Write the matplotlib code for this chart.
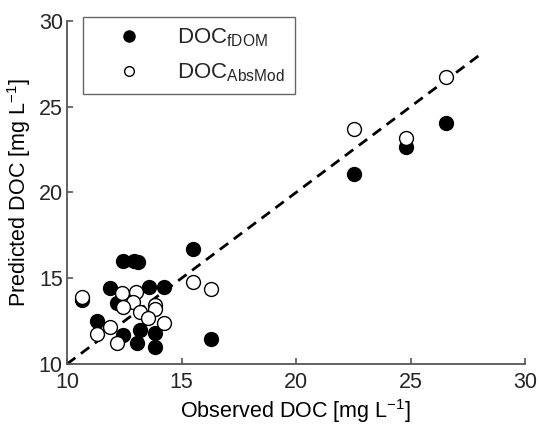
import matplotlib
matplotlib.use("Agg")
import matplotlib.pyplot as plt
from matplotlib.lines import Line2D

plt.rcParams["font.family"] = ["Liberation Sans", "DejaVu Sans"]
plt.rcParams["mathtext.fontset"] = "custom"
plt.rcParams["mathtext.rm"] = "Liberation Sans"
plt.rcParams["mathtext.it"] = "Liberation Sans"
plt.rcParams["lines.scale_dashes"] = False
plt.rcParams["text.color"] = "#262626"

# observed / predicted DOC [mg L-1]
obs_fdom = [15.52, 12.43, 12.93, 13.11, 11.88, 13.59, 14.24, 10.64, 12.20, 11.30,
            13.19, 12.46, 13.84, 13.04, 13.84, 16.28, 22.53, 24.80, 26.55]
pred_fdom = [16.69, 16.03, 16.03, 15.97, 14.42, 14.47, 14.47, 13.73, 13.54, 12.53,
             11.98, 11.69, 11.83, 11.21, 10.97, 11.44, 21.09, 22.68, 24.08]

obs_abs = [10.64, 15.52, 16.28, 12.41, 13.00, 12.90, 13.84, 13.84, 12.46, 13.19,
           13.55, 14.24, 11.88, 11.30, 12.20, 22.53, 24.80, 26.55]
pred_abs = [13.89, 14.80, 14.38, 14.12, 14.22, 13.63, 13.44, 13.21, 13.31, 13.05,
            12.67, 12.37, 12.18, 11.75, 11.21, 23.69, 23.17, 26.76]

one_to_one = [10, 28]
ticks = [10, 15, 20, 25, 30]

fig = plt.figure(figsize=(5.39, 4.25), dpi=100)
ax = fig.add_axes([67 / 539, 1 - 364 / 425, 458 / 539, 343 / 425])

ax.plot(one_to_one, one_to_one, color="black", lw=2, dashes=(7.5, 5), zorder=1)
ax.plot(obs_fdom, pred_fdom, "o", ms=10, mfc="black", mec="black", mew=1, zorder=2)
ax.plot(obs_abs, pred_abs, "o", ms=10, mfc="white", mec="black", mew=1, zorder=3)

ax.set_xlim(10, 30)
ax.set_ylim(10, 30)
ax.set_xticks(ticks)
ax.set_yticks(ticks)
ax.spines["top"].set_visible(False)
ax.spines["right"].set_visible(False)
for s in ("left", "bottom"):
    ax.spines[s].set_linewidth(1.3)
    ax.spines[s].set_color("#555555")
ax.tick_params(direction="in", length=4, width=1.2, color="#555555",
               labelcolor="#262626", labelsize=15.5)
ax.tick_params(axis="x", pad=6)
ax.tick_params(axis="y", pad=3)
ax.set_xlabel("Observed DOC [mg L$^{-1}$]", fontsize=15.5, labelpad=3)
ax.set_ylabel("Predicted DOC [mg L$^{-1}$]", fontsize=15.5, labelpad=4)

handles = [
    Line2D([], [], ls="none", marker="o", ms=8, mfc="black", mec="black"),
    Line2D([], [], ls="none", marker="o", ms=7, mfc="white", mec="black"),
]
labels = [r"DOC$_{\mathrm{fDOM}}$", r"DOC$_{\mathrm{AbsMod}}$"]
leg = ax.legend(handles, labels, loc="upper left", bbox_to_anchor=(0.035, 1.012),
                fontsize=16, frameon=True, fancybox=False, borderpad=0.45,
                handletextpad=0.6, labelspacing=0.55, borderaxespad=0,
                handlelength=3.2)
leg.get_frame().set_edgecolor("#404040")
leg.get_frame().set_linewidth(1.0)

fig.savefig("out.png", dpi=100)
